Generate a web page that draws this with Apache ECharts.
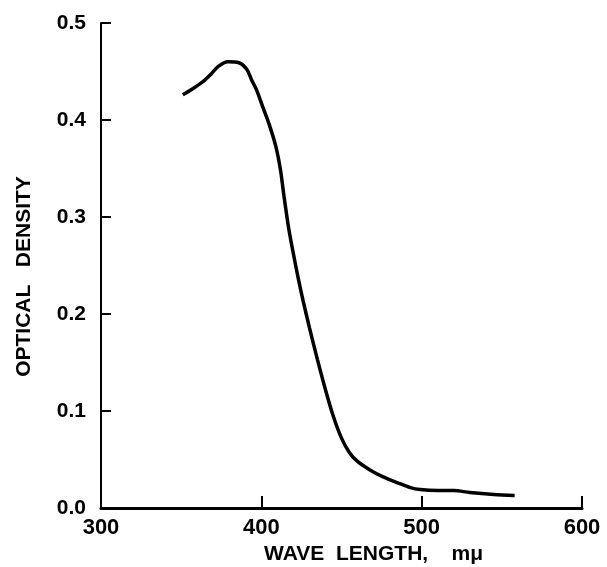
<!DOCTYPE html>
<html>
<head>
<meta charset="utf-8">
<script src="https://cdn.jsdelivr.net/npm/echarts@6/dist/echarts.min.js"></script>
<style>html,body{margin:0;padding:0;background:#fff}#c{width:607px;height:567px}</style>
</head>
<body>
<div id="c"></div>
<script>
var wavelength = [351, 357, 364, 369, 373, 379, 386, 391, 394, 397, 401, 405, 409, 412, 414, 417, 420, 423, 426, 430, 435, 440, 445, 450, 455, 460, 468, 476, 485, 493, 499, 510, 520, 530, 545, 558];
var density    = [0.426, 0.432, 0.440, 0.448, 0.455, 0.460, 0.459, 0.452, 0.441, 0.431, 0.413, 0.395, 0.373, 0.348, 0.323, 0.289, 0.262, 0.237, 0.214, 0.186, 0.153, 0.122, 0.094, 0.072, 0.057, 0.048, 0.039, 0.032, 0.026, 0.021, 0.019, 0.018, 0.018, 0.016, 0.014, 0.013];
var xTicks = [300, 400, 500, 600];
var yTicks = [0.0, 0.1, 0.2, 0.3, 0.4, 0.5];

var data = wavelength.map(function (w, i) { return [w, density[i]]; });
var font = '"Liberation Sans", Arial, sans-serif';
var chart = echarts.init(document.getElementById('c'), null, {renderer: 'canvas'});
chart.setOption({
  animation: false,
  backgroundColor: '#fff',
  grid: {left: 101, right: 25, top: 23, bottom: 59, containLabel: false, outerBoundsMode: 'none'},
  xAxis: {
    type: 'value', min: xTicks[0], max: xTicks[xTicks.length - 1], interval: 100,
    name: 'WAVE  LENGTH,    m\u03bc', nameLocation: 'middle', nameGap: 31,
    nameTextStyle: {fontFamily: font, fontSize: 21, color: '#000', fontWeight: 'bold', padding: [0, 0, 0, 64]},
    axisLine: {lineStyle: {color: '#000', width: 3}},
    axisTick: {inside: true, length: 12, lineStyle: {color: '#000', width: 2}},
    axisLabel: {fontFamily: font, fontSize: 22, color: '#000', fontWeight: 'bold', margin: 9,
      formatter: function (v) { return String(v); }},
    splitLine: {show: false}
  },
  yAxis: {
    type: 'value', min: yTicks[0], max: yTicks[yTicks.length - 1], interval: 0.1,
    name: 'OPTICAL   DENSITY', nameLocation: 'middle', nameGap: 66, nameRotate: 90,
    nameTextStyle: {fontFamily: font, fontSize: 21, color: '#000', fontWeight: 'bold', padding: [0, 22, 0, 0]},
    axisLine: {lineStyle: {color: '#000', width: 2}},
    axisTick: {inside: true, length: 10, lineStyle: {color: '#000', width: 2}},
    axisLabel: {fontFamily: font, fontSize: 21, color: '#000', fontWeight: 'bold', margin: 15,
      formatter: function (v) { return v.toFixed(1); }},
    splitLine: {show: false}
  },
  series: [{
    type: 'line', data: data, smooth: 0.3, showSymbol: false,
    lineStyle: {color: '#000', width: 3.5}
  }]
});
</script>
</body>
</html>
